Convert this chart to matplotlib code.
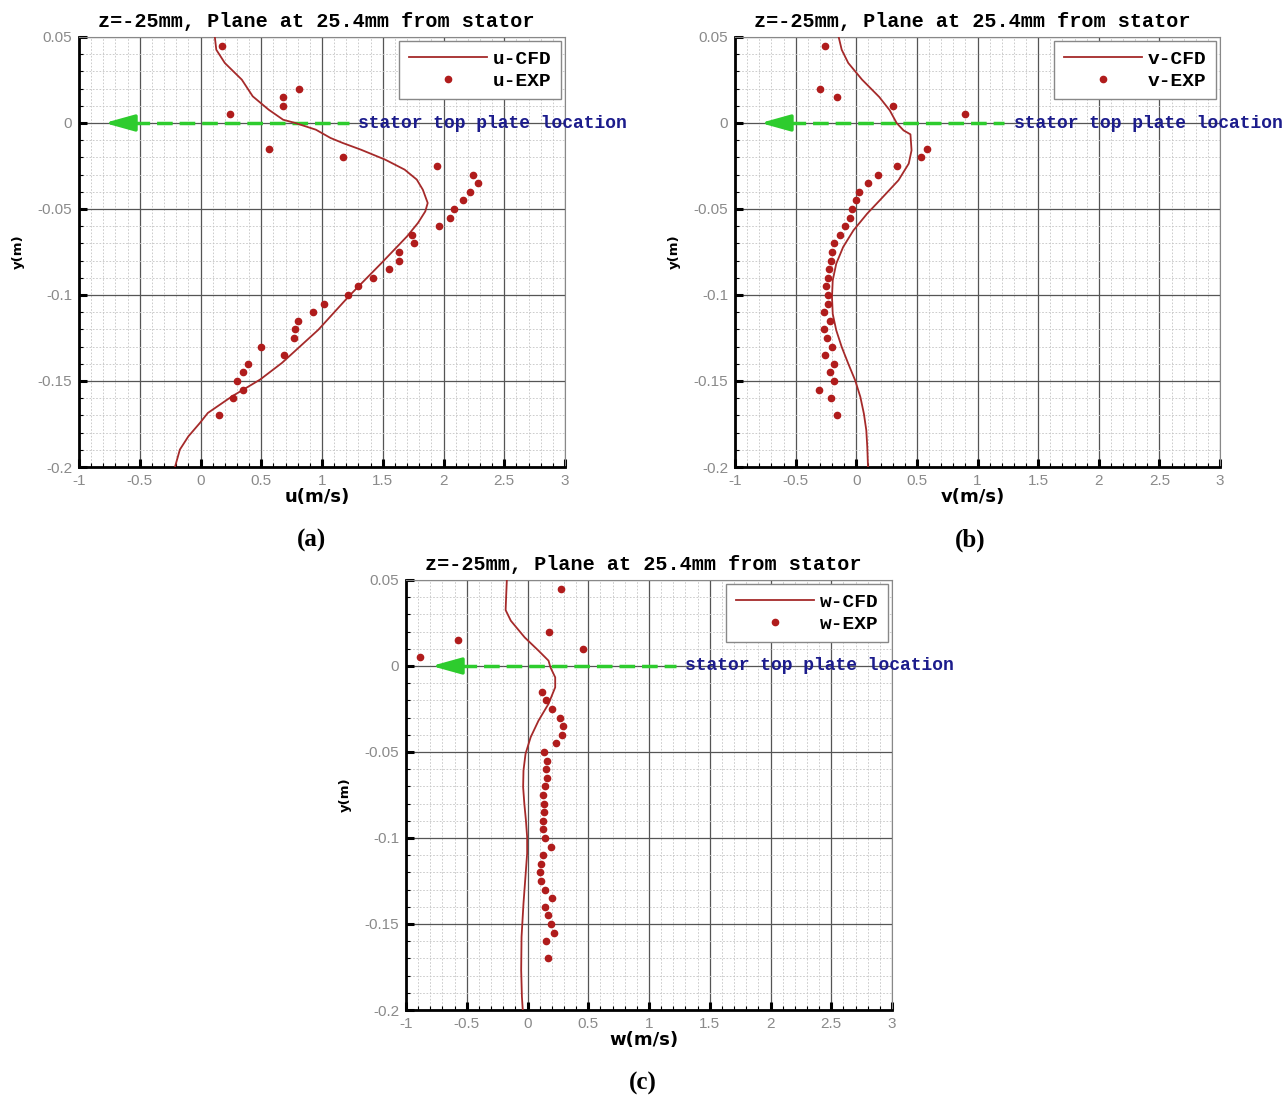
import matplotlib
matplotlib.use("Agg")
import matplotlib.pyplot as plt
from matplotlib.ticker import MultipleLocator

# ---- data (x in m/s, y in m) ----
u_cfd_y = [0.05, 0.0426, 0.0349, 0.0252, 0.0155, 0.0078, 0.0019, 0.0, -0.0039, -0.0087,
           -0.0116, -0.0155, -0.0213, -0.0271, -0.0329, -0.0388, -0.0465, -0.0514, -0.0581,
           -0.0659, -0.0814, -0.1008, -0.1202, -0.1395, -0.1492, -0.1589, -0.1686, -0.1744,
           -0.1822, -0.1899, -0.2]
u_cfd_x = [0.118, 0.13, 0.20, 0.34, 0.43, 0.56, 0.68, 0.78, 0.95, 1.07,
           1.17, 1.32, 1.52, 1.68, 1.78, 1.83, 1.87, 1.85, 1.79,
           1.70, 1.49, 1.22, 0.97, 0.67, 0.49, 0.26, 0.06, -0.005,
           -0.10, -0.17, -0.21]
u_exp_y = [0.045, 0.005, 0.015, 0.010, 0.020, -0.015, -0.020, -0.025, -0.030, -0.035,
           -0.040, -0.045, -0.050, -0.055, -0.060, -0.065, -0.070, -0.075, -0.080, -0.085,
           -0.090, -0.095, -0.100, -0.105, -0.110, -0.115, -0.120, -0.125, -0.130, -0.135,
           -0.140, -0.145, -0.150, -0.155, -0.160, -0.170]
u_exp_x = [0.173, 0.241, 0.68, 0.675, 0.81, 0.565, 1.17, 1.95, 2.24, 2.28,
           2.22, 2.16, 2.09, 2.05, 1.96, 1.74, 1.76, 1.63, 1.635, 1.55,
           1.42, 1.30, 1.21, 1.02, 0.93, 0.80, 0.78, 0.77, 0.50, 0.69,
           0.39, 0.35, 0.30, 0.35, 0.27, 0.15]

v_cfd_y = [0.05, 0.0426, 0.0349, 0.0252, 0.0151, 0.0074, 0.0, -0.0043, -0.0066, -0.0159,
           -0.0236, -0.0333, -0.043, -0.0527, -0.0624, -0.0721, -0.0818, -0.0915, -0.1012,
           -0.111, -0.1205, -0.1302, -0.1399, -0.1496, -0.1593, -0.169, -0.1787, -0.1884, -0.2]
v_cfd_x = [-0.145, -0.12, -0.066, 0.048, 0.19, 0.276, 0.333, 0.39, 0.447, 0.456,
           0.433, 0.348, 0.22, 0.09, -0.023, -0.108, -0.165, -0.194, -0.20,
           -0.194, -0.165, -0.12, -0.066, -0.009, 0.034, 0.063, 0.083, 0.091, 0.097]
v_exp_y = [0.045, 0.020, 0.015, 0.010, 0.005, -0.015, -0.020, -0.025, -0.030, -0.035,
           -0.040, -0.045, -0.050, -0.055, -0.060, -0.065, -0.070, -0.075, -0.080, -0.085,
           -0.090, -0.095, -0.100, -0.105, -0.110, -0.115, -0.120, -0.125, -0.130, -0.135,
           -0.140, -0.145, -0.150, -0.155, -0.160, -0.170]
v_exp_x = [-0.26, -0.30, -0.16, 0.30, 0.895, 0.587, 0.53, 0.336, 0.177, 0.094,
           0.023, 0.0, -0.031, -0.05, -0.094, -0.137, -0.18, -0.20, -0.205, -0.222,
           -0.236, -0.25, -0.236, -0.236, -0.27, -0.217, -0.27, -0.245, -0.20, -0.256,
           -0.18, -0.217, -0.18, -0.305, -0.205, -0.16]

w_cfd_y = [0.05, 0.04, 0.0325, 0.0263, 0.0166, 0.0089, 0.0031, -0.0008, -0.0066, -0.0124,
           -0.022, -0.0317, -0.0414, -0.051, -0.0607, -0.0704, -0.0801, -0.0897, -0.0995,
           -0.109, -0.1188, -0.138, -0.1575, -0.1768, -0.1923, -0.2]
w_cfd_x = [-0.17, -0.176, -0.18, -0.137, -0.023, 0.091, 0.173, 0.189, 0.228, 0.228,
           0.173, 0.091, 0.026, -0.016, -0.033, -0.036, -0.026, -0.013, -0.003,
           -0.003, -0.013, -0.033, -0.049, -0.052, -0.046, -0.039]
w_exp_y = [0.045, 0.020, 0.015, 0.010, 0.005, -0.015, -0.020, -0.025, -0.030, -0.035,
           -0.040, -0.045, -0.050, -0.055, -0.060, -0.065, -0.070, -0.075, -0.080, -0.085,
           -0.090, -0.095, -0.100, -0.105, -0.110, -0.115, -0.120, -0.125, -0.130, -0.135,
           -0.140, -0.145, -0.150, -0.155, -0.160, -0.170]
w_exp_x = [0.277, 0.18, -0.573, 0.46, -0.883, 0.117, 0.156, 0.20, 0.264, 0.296,
           0.28, 0.238, 0.137, 0.163, 0.15, 0.163, 0.14, 0.127, 0.137, 0.134,
           0.124, 0.127, 0.147, 0.195, 0.124, 0.11, 0.104, 0.11, 0.147, 0.205,
           0.14, 0.166, 0.195, 0.215, 0.156, 0.17]

title = "z=-25mm, Plane at 25.4mm from stator"
line_col = "#a52a2a"
dot_col = "#b01c1c"
mono = "Liberation Mono"

W, H = 1285, 1098
fig = plt.figure(figsize=(W / 100, H / 100), dpi=100)


def px_axes(left, top, right, bottom):
    return fig.add_axes([left / W, 1 - bottom / H, (right - left) / W, (bottom - top) / H])


def panel(ax, cx, cy, ex, ey, comp, cap, cap_xy):
    ax.set_xlim(-1, 3)
    ax.set_ylim(-0.2, 0.05)
    ax.xaxis.set_major_locator(MultipleLocator(0.5))
    ax.xaxis.set_minor_locator(MultipleLocator(0.1))
    ax.yaxis.set_major_locator(MultipleLocator(0.05))
    ax.yaxis.set_minor_locator(MultipleLocator(0.01))
    ax.grid(which="major", color="#555555", lw=0.9)
    ax.grid(which="minor", color="#c4c4c4", lw=0.6, ls=(0, (2, 2)))
    ax.set_axisbelow(True)
    ax.tick_params(which="both", direction="in", top=False, right=False,
                   labelsize=11, labelcolor="#8a8a8a", pad=5)
    ax.tick_params(which="major", length=6, width=2.2)
    ax.tick_params(which="minor", length=3, width=0.8)
    for lab in ax.get_xticklabels() + ax.get_yticklabels():
        lab.set_fontfamily("Liberation Sans")
    ax.xaxis.set_major_formatter(matplotlib.ticker.FuncFormatter(lambda v, p: f"{v:g}"))
    ax.yaxis.set_major_formatter(matplotlib.ticker.FuncFormatter(lambda v, p: f"{v:g}"))
    for s in ["left", "bottom"]:
        ax.spines[s].set_linewidth(2)
        ax.spines[s].set_color("black")
    for s in ["top", "right"]:
        ax.spines[s].set_linewidth(0.8)
        ax.spines[s].set_color("#888888")

    ax.plot(cx, cy, color=line_col, lw=1.3, label=f"{comp}-CFD", zorder=4)
    ax.plot(ex, ey, ls="none", marker="o", ms=4.5, color=dot_col, mec=dot_col,
            label=f"{comp}-EXP", zorder=5)

    # stator top plate marker
    ax.plot([-0.55, 1.22], [0, 0], color="#2ecc2e", lw=2.5, ls=(0, (4.5, 2)), zorder=3)
    ax.annotate("", xy=(-0.79, 0), xytext=(-0.54, 0),
                arrowprops=dict(arrowstyle="-|>,head_length=1.8,head_width=0.5",
                                color="#2ecc2e", lw=2.5, shrinkA=0, shrinkB=0), zorder=3)
    ax.text(1.30, 0, "stator top plate location", color="#1c1c8c", fontsize=13,
            fontweight="bold", family=mono, va="center", ha="left", clip_on=False)

    leg = ax.legend(loc="upper right", prop=dict(family=mono, weight="bold", size=14),
                    handlelength=4, handletextpad=0.3, borderpad=0.5, labelspacing=0.2,
                    borderaxespad=0.2, fancybox=False, framealpha=1, edgecolor="#888888")
    leg.get_frame().set_linewidth(1)

    ax.text(0.489, 1.037, title, transform=ax.transAxes, ha="center", va="center",
            family=mono, fontweight="bold", fontsize=14.5)
    ax.set_xlabel(f"{comp}(m/s)", fontsize=13, fontweight="bold", va="top")
    ax.xaxis.set_label_coords(0.49, -0.048)
    ax.set_ylabel("y(m)", fontsize=9.5, fontweight="bold")
    ax.yaxis.set_label_coords(-0.112, 0.5)
    fig.text(cap_xy[0] / W, 1 - cap_xy[1] / H, cap, ha="center", va="center",
             family="Liberation Serif", fontweight="bold", fontsize=18)


ax_a = px_axes(79, 37, 565, 467)
panel(ax_a, u_cfd_x, u_cfd_y, u_exp_x, u_exp_y, "u", "(a)", (312, 540))
ax_b = px_axes(735, 37, 1220, 467)
panel(ax_b, v_cfd_x, v_cfd_y, v_exp_x, v_exp_y, "v", "(b)", (970, 540))
ax_c = px_axes(406, 580, 892, 1010)
panel(ax_c, w_cfd_x, w_cfd_y, w_exp_x, w_exp_y, "w", "(c)", (643, 1083))

fig.savefig("out.png", dpi=100, facecolor="white")
